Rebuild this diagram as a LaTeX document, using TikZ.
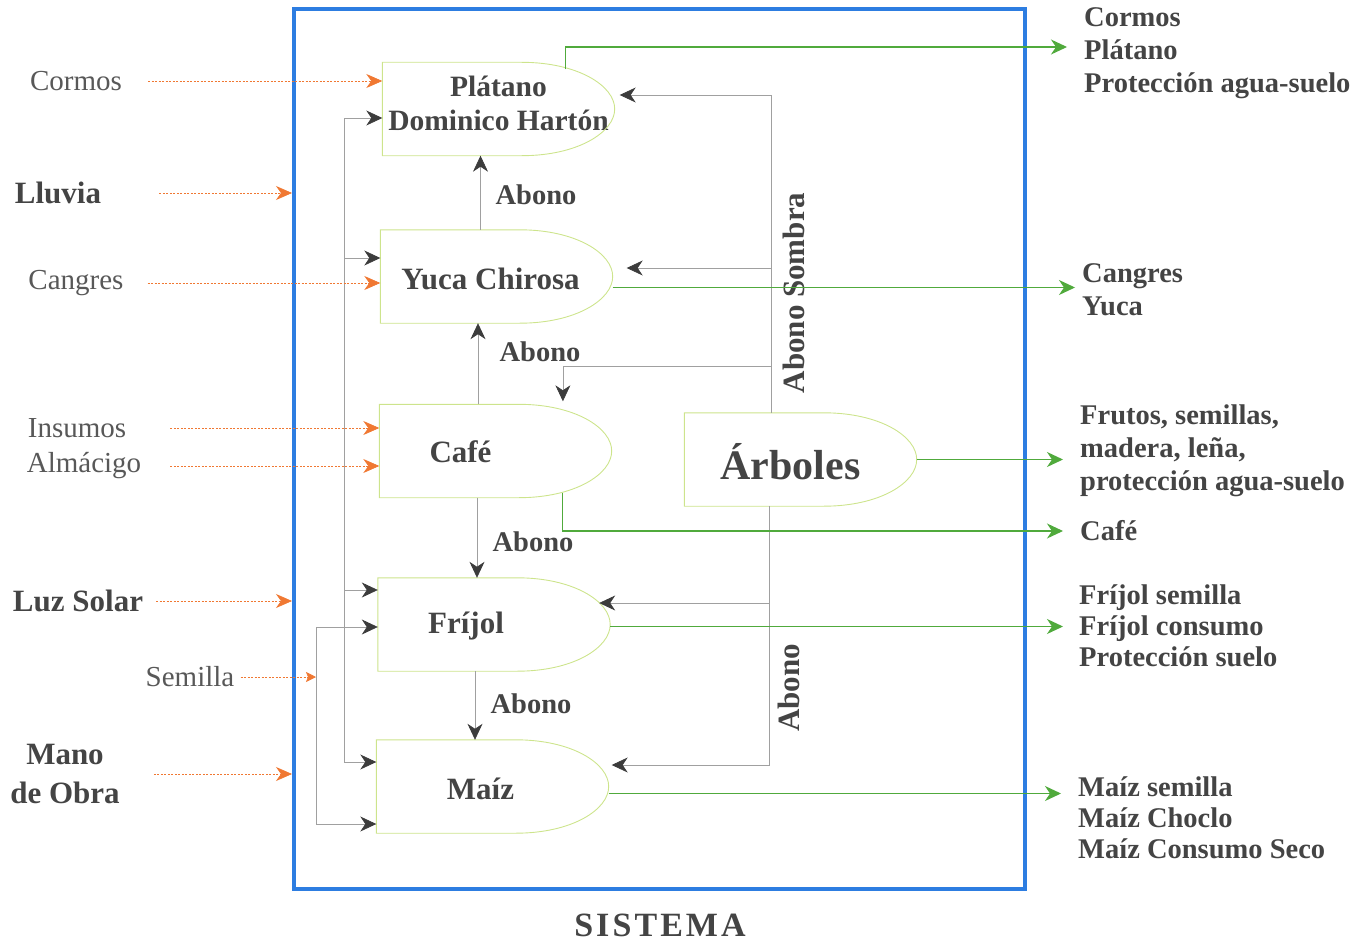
\documentclass[tikz,border=0pt]{standalone}
\usepackage{fontspec}
\setmainfont{Liberation Serif}
\usetikzlibrary{arrows.meta,calc}

\definecolor{ink}{RGB}{68,68,68}
\definecolor{softink}{RGB}{88,88,88}
\definecolor{sysblue}{RGB}{45,125,225}
\definecolor{feed}{RGB}{240,120,50}
\definecolor{yield}{RGB}{80,170,60}
\definecolor{flow}{RGB}{160,160,160}
\definecolor{tipgrey}{RGB}{60,60,60}
\definecolor{rim}{RGB}{205,228,140}

\tikzset{
  crop/.style={minimum width=232pt, minimum height=93pt, inner sep=0pt},
  croptext/.style={font=\fontsize{31}{34}\selectfont\bfseries, text=ink, align=center, inner sep=0pt},
  source/.style={font=\fontsize{29}{33}\selectfont, text=softink, inner sep=0pt},
  mainsource/.style={font=\fontsize{31}{39}\selectfont\bfseries, text=ink, align=center, inner sep=0pt},
  product/.style={font=\fontsize{28.5}{33}\selectfont\bfseries, text=ink, align=left, anchor=west, inner sep=0pt},
  flowlabel/.style={font=\fontsize{28.5}{32}\selectfont\bfseries, text=ink, inner sep=0pt},
  sidelabel/.style={font=\fontsize{31}{34}\selectfont\bfseries, text=ink, inner sep=0pt, rotate=90},
  inarrow/.style={feed, line width=0.7pt, dash pattern=on 2pt off 1.5pt,
    -{Stealth[length=16pt,width=14pt,inset=5pt]}},
  conn/.style={flow, line width=0.7pt,
    -{Stealth[length=16pt,width=15pt,inset=5pt,color=tipgrey,fill=tipgrey]}},
  bus/.style={flow, line width=0.7pt},
  outarrow/.style={yield, line width=1.1pt, -{Stealth[length=16pt,width=15pt,inset=5pt]}},
}

% outline of a crop block: straight left part, rounded nose on the right
\newcommand\cropedge[1]{%
  \draw[rim, line width=0.9pt]
    (#1.north west) -- ($(#1.north west)!0.6!(#1.north east)$)
    .. controls ($(#1.north west)!0.84!(#1.north east)$) and ($(#1.east)!0.5!(#1.north east)$) .. (#1.east)
    .. controls ($(#1.east)!0.5!(#1.south east)$) and ($(#1.south west)!0.84!(#1.south east)$) .. ($(#1.south west)!0.6!(#1.south east)$)
    -- (#1.south west) -- cycle;}

\begin{document}
\begin{tikzpicture}[x=1pt, y=-1pt]
\useasboundingbox (0,0) rectangle (1358,942);

% system boundary
\node[draw=sysblue, line width=4pt, minimum width=731pt, minimum height=880pt, inner sep=0pt] (sistema) at (659.5,449) {};
\node[font=\fontsize{34}{38}\selectfont\bfseries\addfontfeatures{LetterSpace=9}, text=ink, inner sep=0pt] (sislabel) at (660,925) {SISTEMA};

% crop blocks
\node[crop, label={[croptext, font=\fontsize{29.5}{34}\selectfont\bfseries, yshift=6pt]center:Plátano\\Dominico Hartón}] (platano) at (498.5,109) {};
\node[crop, label={[croptext, xshift=-6pt, yshift=-2pt]center:Yuca Chirosa}] (yuca) at (496.5,276.5) {};
\node[crop, label={[croptext, xshift=-35pt, yshift=-1pt]center:Café}] (cafe) at (495.5,451) {};
\node[crop, label={[croptext, xshift=-28pt, yshift=-2pt]center:Fríjol}] (frijol) at (494,624.5) {};
\node[crop, label={[croptext, xshift=-12pt, yshift=-2pt]center:Maíz}] (maiz) at (492.5,786.5) {};
\node[crop, label={[croptext, font=\fontsize{42}{46}\selectfont\bfseries, xshift=-10pt, yshift=-2pt]center:Árboles}] (arboles) at (800.5,459.5) {};

\cropedge{platano}
\cropedge{yuca}
\cropedge{cafe}
\cropedge{frijol}
\cropedge{maiz}
\cropedge{arboles}

% inputs on the left
\node[source] (cormos) at (76,81) {Cormos};
\node[mainsource] (lluvia) at (58,193) {Lluvia};
\node[source] (cangres) at (76,283) {Cangres};
\node[source] (insumos) at (77,428) {Insumos};
\node[source] (almacigo) at (84,466) {Almácigo};
\node[mainsource] (luz) at (78,601) {Luz Solar};
\node[source] (semilla) at (190,677) {Semilla};
\node[mainsource] (mano) at (65,774) {Mano\\de Obra};

% internal distribution lines
\coordinate (busA) at (344,118);
\coordinate (busB) at (316,627);
\path ($(platano.west)+(0,9)$) coordinate (pA);
\path ($(yuca.west)+(0,-18.5)$) coordinate (yA);
\path ($(frijol.west)+(0,-34.5)$) coordinate (fA);
\path ($(maiz.west)+(0,-24.5)$) coordinate (mA);
\path ($(frijol.west)+(0,2.5)$) coordinate (fB);
\path ($(maiz.west)+(0,37.5)$) coordinate (mB);

\draw[bus] (busA |- pA) -- (busA |- mA);
\draw[conn] (busA |- pA) -- (pA);
\draw[conn] (busA |- yA) -- (yA);
\draw[conn] (busA |- fA) -- (fA);
\draw[conn] (busA |- mA) -- (mA);
\draw[bus] (busB |- fB) -- (busB |- mB);
\draw[conn] (busB |- fB) -- (fB);
\draw[conn] (busB |- mB) -- (mB);

% external inputs
\draw[inarrow] ([xshift=26pt]cormos.east) -- (cormos.east -| platano.west);
\draw[inarrow] ([xshift=58pt]lluvia.east) -- (lluvia.east -| sistema.west);
\draw[inarrow] ([xshift=24pt]cangres.east) -- (cangres.east -| yuca.west);
\draw[inarrow] ([xshift=44pt]insumos.east) -- (insumos.east -| cafe.west);
\draw[inarrow] ([xshift=29pt]almacigo.east) -- (almacigo.east -| cafe.west);
\draw[inarrow] ([xshift=13pt]luz.east) -- (luz.east -| sistema.west);
\draw[inarrow, -{Stealth[length=10pt,width=10pt,inset=2pt]}] ([xshift=6pt]semilla.east) -- (semilla.east -| busB);
\draw[inarrow] ([xshift=34pt]mano.east) -- (mano.east -| sistema.west);

% manure passed between crops
\path ([xshift=-16pt]yuca.north) coordinate (a1);
\path ([xshift=-17.5pt]cafe.north) coordinate (a2);
\path ([xshift=-18.5pt]cafe.south) coordinate (a3);
\path ([xshift=-19pt]frijol.south) coordinate (a4);
\draw[conn] (a1) -- (a1 |- platano.south);
\draw[conn] (a2) -- (a2 |- yuca.south);
\draw[conn] (a3) -- (a3 |- frijol.north);
\draw[conn] (a4) -- (a4 |- maiz.north);
\node[flowlabel] (ab1) at (536,195) {Abono};
\node[flowlabel] (ab2) at (540,352) {Abono};
\node[flowlabel] (ab3) at (533,542) {Abono};
\node[flowlabel] (ab4) at (531,704) {Abono};

% contributions of the trees
\path ($(arboles.north west)!0.376!(arboles.north east)$) coordinate (arbN);
\path ($(arboles.south west)!0.365!(arboles.south east)$) coordinate (arbS);
\path ($(platano.east)+(0,-14)$) coordinate (toPla);
\path ($(yuca.east)+(0,-8.5)$) coordinate (toYuca);
\path ($(cafe.north west)!0.79!(cafe.north east)$) coordinate (toCafe);
\path ($(toCafe)+(0,-38)$) coordinate (cafeKnee);
\path ($(frijol.east)+(-11,-21.5)$) coordinate (toFri);
\path ($(maiz.east)+(3,-21.5)$) coordinate (toMaiz);

\draw[conn, shorten >=5pt] (arbN) |- (toPla);
\draw[conn, shorten >=14pt] (arbN |- toYuca) -- (toYuca);
\draw[conn, shorten >=3pt] (arbN |- cafeKnee) -| (toCafe);
\draw[conn] (arbS) |- (toMaiz);
\draw[conn] (arbS |- toFri) -- (toFri);
\node[sidelabel] (sombra) at (794,293) {Abono Sombra};
\node[sidelabel] (abarb) at (789,688) {Abono};

% products leaving the system
\node[product] (outplat) at (1084,53) {Cormos\\Plátano\\Protección agua-suelo};
\node[product] (outyuca) at (1082,290) {Cangres\\Yuca};
\node[product] (outarb) at (1080,451) {Frutos, semillas,\\madera, leña,\\protección agua-suelo};
\node[product] (outcafe) at (1080,531) {Café};
\node[product, font=\fontsize{28.5}{31}\selectfont\bfseries] (outfri) at (1079,626) {Fríjol semilla\\Fríjol consumo\\Protección suelo};
\node[product, font=\fontsize{28.5}{31}\selectfont\bfseries] (outmaiz) at (1078,818) {Maíz semilla\\Maíz Choclo\\Maíz Consumo Seco};

\path ($(platano.north west)!0.79!(platano.north east)+(0,7)$) coordinate (pOut);
\path ($(outplat.west)+(-17,-6)$) coordinate (pTip);
\draw[outarrow] (pOut) |- (pTip);

\path ($(yuca.east)+(0,11)$) coordinate (yOut);
\draw[outarrow, shorten >=7pt] (yOut) -- (yOut -| outyuca.west);

\draw[outarrow, shorten >=17pt] (arboles.east) -- (arboles.east -| outarb.west);

\path ($(cafe.south west)!0.79!(cafe.south east)+(0,-5)$) coordinate (cOut);
\path ($(outcafe.west)+(-17,0)$) coordinate (cTip);
\draw[outarrow] (cOut) |- (cTip);

\path ($(frijol.east)+(0,2)$) coordinate (fOut);
\draw[outarrow, shorten >=16pt] (fOut) -- (fOut -| outfri.west);

\path ($(maiz.east)+(0,7)$) coordinate (mOut);
\draw[outarrow, shorten >=17pt] (mOut) -- (mOut -| outmaiz.west);
\end{tikzpicture}
\end{document}
